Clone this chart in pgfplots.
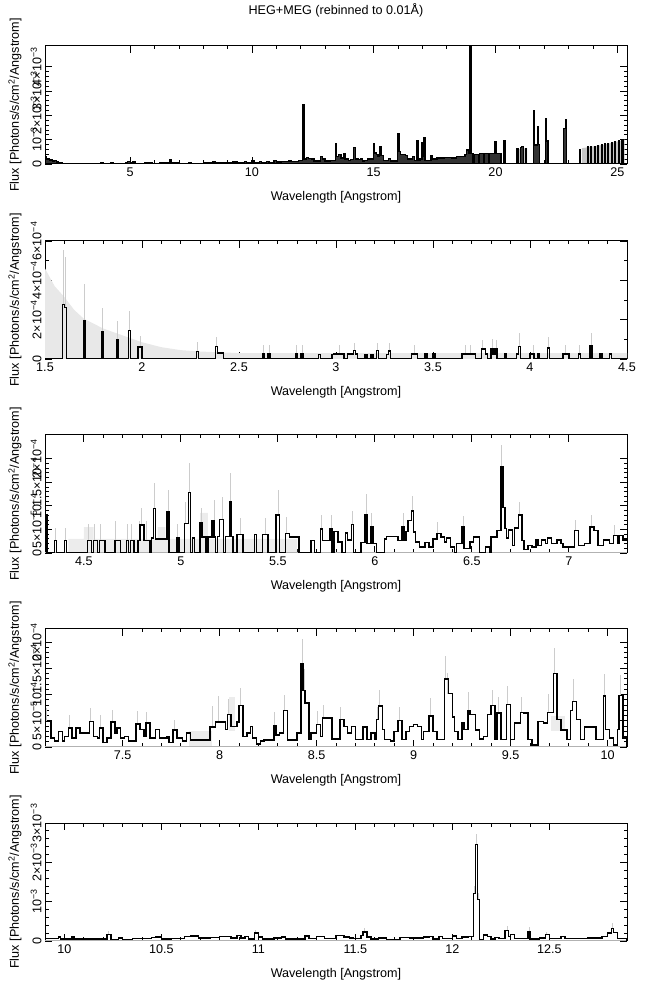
\documentclass[border=0pt]{standalone}
\usepackage{fontspec}
\setmainfont{Liberation Sans}
\usepackage{pgfplots}
\pgfplotsset{compat=1.18}
\newcommand\fs{\fontsize{12.6pt}{15pt}\selectfont}
\newcommand\mth{\textsuperscript{−3}}
\newcommand\mf{\textsuperscript{−4}}
\newcommand\mv{\textsuperscript{−5}}
\pgfplotsset{
 panel/.style={
  scale only axis, width=582pt, height=118pt, anchor=south west,
  axis line style={line width=1pt},
  tick align=inside, xtick pos=both, ytick pos=both,
  major tick length=7pt, minor tick length=3.5pt,
  every tick/.style={black, line width=0.8pt},
  /pgf/number format/assume math mode=true,
  tick label style={font=\fs},
  yticklabel style={rotate=90, anchor=south},
  xlabel={Wavelength [Angstrom]},
  ylabel={Flux [Photons/s/cm\textsuperscript{2}/Angstrom]},
  label style={font=\fs},
  xlabel style={at={(axis description cs:0.5,0)}, anchor=center, yshift=-33pt},
  ylabel style={at={(axis description cs:-0.0515,0.5)}, anchor=center},
  ymin=0, enlargelimits=false, minor x tick num=4,
 },
 stp/.style={const plot, black, line width=1.5pt, mark=none},
 zero/.style={gray!60, line width=1.6pt, mark=none, forget plot},
 ebar/.style={draw=none, mark=none, forget plot,
   error bars/.cd, y dir=plus, y explicit, error mark=none,
   error bar style={draw=gray!40, solid, line width=0.8pt}},
}
\begin{document}
\begin{tikzpicture}
\useasboundingbox (0,0) rectangle (650pt,991pt);
% ---------------- Panel 1 ----------------
\begin{axis}[panel, at={(45pt,827pt)}, xmin=1.5, xmax=25.4, ymax=4.85,
  xtick={5,10,15,20,25}, ytick={0,1,2,3,4},
  yticklabels={0,10\mth,2×10\mth,3×10\mth,4×10\mth}, minor y tick num=4,
  title={HEG+MEG (rebinned to 0.01Å)},
  title style={at={(axis description cs:0.5,1)}, anchor=center, yshift=30pt, font=\fs}]
\addplot[fill=gray!45, draw=none, forget plot] coordinates {(19.0,0) (19.0,0.4) (20.2,0.44) (20.2,0) (20.9,0) (20.9,0.6) (21.3,0.66) (21.3,0) (23.55,0) (23.55,0.65) (24.5,0.8) (25.3,1.0) (25.3,0)};
\addplot[const plot, draw=black, line width=1.3pt, fill=black!80, mark=none] table {
1.50 0.30
1.56 0.20
1.62 0.22
1.68 0.15
1.75 0.18
1.82 0.12
1.90 0.14
1.98 0.08
2.05 0.05
2.20 0.03
2.60 0.02
3.00 0.03
3.50 0.02
3.80 0.04
3.90 0.02
4.20 0.04
4.30 0.03
4.80 0.06
4.90 0.10
5.00 0.05
5.10 0.08
5.20 0.03
5.60 0.04
5.90 0.03
6.20 0.05
6.60 0.16
6.68 0.04
7.00 0.03
7.40 0.05
7.50 0.03
8.00 0.05
8.40 0.10
8.48 0.04
8.80 0.06
9.10 0.05
9.20 0.08
9.40 0.04
9.70 0.10
9.78 0.06
10.00 0.12
10.08 0.06
10.30 0.10
10.40 0.06
10.60 0.09
10.70 0.07
10.90 0.15
11.00 0.08
11.20 0.10
11.50 0.12
11.60 0.09
11.90 0.14
12.06 0.18
12.10 2.45
12.16 0.20
12.25 0.28
12.32 0.22
12.45 0.20
12.55 0.12
12.80 0.32
12.90 0.20
13.00 0.12
13.20 0.15
13.42 0.85
13.48 0.30
13.55 0.38
13.65 0.25
13.75 0.42
13.82 0.20
13.95 0.15
14.05 0.18
14.18 0.68
14.24 0.20
14.35 0.18
14.45 0.20
14.55 0.12
14.62 0.15
14.75 0.20
14.98 0.85
15.04 0.45
15.10 0.38
15.18 0.30
15.24 0.70
15.30 0.35
15.40 0.15
15.60 0.22
15.70 0.12
15.98 1.25
16.04 0.50
16.10 0.40
16.22 0.40
16.30 0.35
16.40 0.20
16.60 0.30
16.68 0.15
16.76 0.97
16.82 0.15
16.90 0.20
16.98 0.87
17.03 0.30
17.05 1.08
17.11 0.15
17.20 0.15
17.35 0.35
17.42 0.20
17.60 0.25
17.90 0.28
18.20 0.25
18.40 0.30
18.60 0.32
18.75 0.40
18.82 0.58
18.88 0.45
18.95 4.90
19.00 0.42
19.08 0.00
19.12 0.40
19.30 0.00
19.34 0.42
19.50 0.00
19.54 0.43
19.70 0.00
19.74 0.44
19.98 0.90
20.03 0.42
20.22 0.00
20.35 0.96
20.40 0.00
20.88 0.62
20.95 0.00
21.02 0.67
21.08 0.72
21.14 0.00
21.22 0.65
21.28 0.00
21.55 2.20
21.60 0.78
21.72 1.55
21.76 0.80
21.82 0.00
22.05 1.85
22.10 0.95
22.16 0.00
22.80 1.45
22.86 1.82
22.92 0.00
23.45 0.60
23.50 0.00
23.78 0.70
23.81 0.00
23.92 0.70
23.95 0.00
24.06 0.72
24.09 0.00
24.20 0.75
24.23 0.00
24.34 0.78
24.37 0.00
24.48 0.82
24.51 0.00
24.62 0.84
24.65 0.00
24.76 0.86
24.79 0.00
24.90 0.90
24.93 0.00
25.04 0.95
25.07 0.00
25.16 0.98
25.20 1.00
25.23 0.00
25.40 0.00
} \closedcycle;
\end{axis}
% ---------------- Panel 2 ----------------
\begin{axis}[panel, at={(45pt,632pt)}, xmin=1.5, xmax=4.5, ymax=6,
  xtick={1.5,2,2.5,3,3.5,4,4.5}, ytick={0,2,4,6},
  yticklabels={0,2×10\mf,4×10\mf,6×10\mf}, minor y tick num=1]
\addplot[fill=gray!18, draw=none, forget plot] coordinates {(1.5,0) (1.5,4.6) (1.55,3.7) (1.6,3.15) (1.65,2.5) (1.7,2.05) (1.75,1.8) (1.8,1.55) (1.9,1.2) (2.0,0.85) (2.1,0.6) (2.2,0.45) (2.3,0.38) (2.5,0.3) (4.5,0.3) (4.5,0)};
\addplot[ebar] table[x index=0, y index=1, y error index=2] {
1.595 2.77 2.75
1.605 2.63 2.55
1.705 1.92 1.90
1.795 1.36 1.25
1.875 0.97 0.95
1.935 1.45 0.98
1.990 0.60 0.55
2.285 0.37 0.50
2.385 0.63 0.50
2.625 0.26 0.45
2.655 0.26 0.45
2.795 0.26 0.45
2.825 0.26 0.45
3.015 0.25 0.45
3.095 0.42 0.40
3.215 0.42 0.40
3.275 0.40 0.40
3.405 0.26 0.45
3.665 0.26 0.45
3.695 0.26 0.45
3.755 0.52 0.45
3.805 0.52 0.50
3.825 0.52 0.45
3.945 0.63 0.70
4.015 0.26 0.45
4.095 0.56 0.55
4.185 0.26 0.45
4.255 0.26 0.45
4.315 0.68 0.65
};
\addplot[stp] table {
1.50 0
1.59 2.77
1.60 2.63
1.61 0
1.70 1.92
1.71 0
1.79 1.36
1.80 0
1.87 0.97
1.88 0
1.93 1.45
1.94 0
1.98 0.60
2.00 0
2.28 0.37
2.29 0
2.38 0.63
2.39 0.30
2.42 0
2.62 0.26
2.63 0
2.65 0.26
2.66 0
2.79 0.26
2.80 0
2.82 0.26
2.83 0
2.91 0.22
2.92 0
2.98 0.22
2.99 0.25
3.04 0
3.06 0.25
3.09 0.42
3.10 0.25
3.11 0
3.15 0.22
3.16 0
3.18 0.22
3.19 0
3.21 0.42
3.22 0
3.26 0.22
3.27 0.40
3.28 0
3.39 0.26
3.42 0
3.46 0.26
3.47 0
3.50 0.26
3.51 0
3.65 0.26
3.72 0
3.75 0.52
3.77 0.26
3.78 0
3.80 0.52
3.81 0.26
3.82 0.52
3.83 0
3.87 0.26
3.88 0
3.93 0.26
3.94 0.63
3.95 0
4.00 0.26
4.02 0
4.04 0.26
4.05 0
4.09 0.56
4.10 0
4.17 0.26
4.20 0
4.25 0.26
4.26 0
4.31 0.68
4.32 0
4.36 0.26
4.37 0
4.41 0.26
4.42 0
4.50 0
};
\end{axis}
% ---------------- Panel 3 ----------------
\begin{axis}[panel, at={(45pt,438pt)}, xmin=4.3, xmax=7.3, ymax=2.5,
  xtick={4.5,5,5.5,6,6.5,7}, ytick={0,0.5,1,1.5,2},
  yticklabels={0,5×10\mv,10\mf,1.5×10\mf,2×10\mf}, minor y tick num=4]
\addplot[fill=gray!15, draw=none, forget plot] coordinates {(4.42,0) (4.42,0.3) (4.5,0.3) (4.5,0.55) (4.55,0.55) (4.55,0.3) (4.88,0.3) (4.88,0.55) (4.92,0.55) (4.92,0.3) (5.1,0.3) (5.1,0.85) (5.14,0.85) (5.14,0.3) (5.6,0.3) (5.6,0)};
\addplot[zero] coordinates {(4.3,0) (7.3,0)};
\addplot[ebar] table[x index=0, y index=1, y error index=2] {
4.355 0.27 0.27
4.405 0.27 0.27
4.525 0.27 0.35
4.555 0.27 0.35
4.585 0.27 0.35
4.665 0.27 0.40
4.725 0.27 0.35
4.745 0.27 0.35
4.785 0.27 0.40
4.795 0.59 0.37
4.825 0.27 0.40
4.865 0.94 0.54
4.935 0.88 0.46
4.985 0.32 0.30
5.025 0.62 0.45
5.045 1.28 0.62
5.105 0.65 0.30
5.175 0.68 0.45
5.215 0.71 0.48
5.255 1.09 0.60
5.305 0.39 0.35
5.435 0.39 0.35
5.505 0.80 0.54
5.545 0.41 0.35
5.725 0.51 0.30
5.775 0.51 0.30
5.885 0.60 0.30
5.955 0.81 0.45
5.985 0.55 0.30
6.145 0.55 0.30
6.195 0.89 0.31
6.325 0.41 0.25
6.455 0.55 0.23
6.655 1.82 0.46
6.665 0.96 0.30
6.745 0.80 0.28
7.035 0.48 0.22
7.115 0.55 0.25
7.235 0.37 0.22
};
\addplot[stp] table {
4.30 0.82
4.31 0
4.35 0.27
4.36 0
4.40 0.27
4.41 0
4.52 0.27
4.54 0
4.55 0.27
4.57 0
4.58 0.27
4.61 0
4.66 0.27
4.69 0
4.72 0.27
4.73 0
4.74 0.27
4.76 0
4.78 0.27
4.79 0.59
4.81 0.27
4.84 0
4.85 0.32
4.86 0.94
4.87 0.30
4.93 0.88
4.94 0
4.98 0.32
4.99 0
5.02 0.62
5.04 1.28
5.05 0
5.06 0.32
5.07 0
5.10 0.65
5.11 0.34
5.13 0
5.14 0.34
5.16 0.68
5.17 0.34
5.18 0
5.19 0.35
5.20 0.71
5.22 0
5.23 0.35
5.25 1.09
5.26 0.35
5.27 0
5.29 0.39
5.32 0
5.38 0.39
5.39 0
5.42 0.39
5.45 0
5.49 0.80
5.51 0
5.54 0.41
5.56 0.34
5.61 0
5.67 0.27
5.69 0
5.72 0.51
5.73 0.27
5.77 0.51
5.78 0
5.79 0.46
5.81 0.23
5.83 0
5.85 0.42
5.86 0.28
5.88 0.60
5.89 0
5.93 0.22
5.95 0.81
5.96 0.20
5.98 0.55
5.99 0.20
6.01 0
6.05 0.30
6.06 0.35
6.12 0.27
6.14 0.55
6.15 0.27
6.16 0.46
6.17 0.69
6.19 0.89
6.20 0.44
6.21 0.23
6.23 0.13
6.26 0.22
6.28 0.13
6.30 0.30
6.32 0.41
6.34 0.34
6.36 0.23
6.37 0.32
6.39 0.13
6.41 0
6.42 0.20
6.45 0.55
6.46 0.09
6.49 0.23
6.51 0.34
6.54 0
6.57 0.13
6.59 0
6.60 0.34
6.63 0.48
6.65 1.82
6.66 0.96
6.67 0.52
6.68 0.32
6.69 0.49
6.71 0.16
6.72 0.53
6.74 0.80
6.76 0.27
6.77 0.07
6.79 0.16
6.81 0.13
6.83 0.28
6.84 0.16
6.86 0.28
6.88 0.20
6.89 0.32
6.91 0.20
6.94 0.28
6.96 0.20
6.97 0.13
7.03 0.48
7.05 0.16
7.08 0.20
7.11 0.55
7.13 0.48
7.15 0.16
7.18 0.28
7.21 0.20
7.23 0.37
7.25 0.20
7.26 0.37
7.28 0.28
7.30 0.28
};
\end{axis}
% ---------------- Panel 4 ----------------
\begin{axis}[panel, at={(45pt,244pt)}, xmin=7.1, xmax=10.1, ymax=2.25,
  xtick={7.5,8,8.5,9,9.5,10}, ytick={0,0.5,1,1.5,2},
  yticklabels={0,5×10\mv,10\mf,1.5×10\mf,2×10\mf}, minor y tick num=4]
\addplot[fill=gray!15, draw=none, forget plot] coordinates {(7.84,0) (7.84,0.3) (7.96,0.3) (7.96,0)};
\addplot[fill=gray!15, draw=none, forget plot] coordinates {(8.05,0.3) (8.05,0.95) (8.08,0.95) (8.08,0.3)};
\addplot[fill=gray!15, draw=none, forget plot] coordinates {(9.71,0.3) (9.71,0.6) (9.78,0.6) (9.78,0.3)};
\addplot[zero] coordinates {(7.1,0) (10.1,0)};
\addplot[ebar] table[x index=0, y index=1, y error index=2] {
7.105 0.49 0.25
7.225 0.36 0.25
7.335 0.49 0.25
7.385 0.36 0.25
7.445 0.48 0.22
7.575 0.44 0.25
7.625 0.46 0.20
7.765 0.32 0.20
7.965 0.38 0.40
7.995 0.48 0.50
8.045 0.62 0.30
8.105 0.79 0.34
8.285 0.41 0.25
8.335 0.70 0.30
8.425 1.59 0.46
8.435 1.08 0.40
8.505 0.43 0.25
8.535 0.55 0.25
8.625 0.52 0.25
8.815 0.52 0.25
8.825 0.78 0.31
8.925 0.51 0.25
9.085 0.59 0.35
9.165 1.30 0.43
9.175 1.02 0.40
9.285 0.70 0.35
9.405 0.79 0.30
9.435 0.65 0.30
9.485 0.81 0.35
9.555 0.66 0.30
9.695 0.66 0.35
9.725 1.40 0.49
9.825 0.87 0.42
9.985 0.97 0.43
10.065 0.98 0.40
};
\addplot[stp] table {
7.10 0.49
7.13 0.17
7.15 0.11
7.17 0.30
7.19 0.11
7.20 0.20
7.22 0.36
7.24 0.17
7.26 0.36
7.28 0.27
7.33 0.49
7.35 0.20
7.37 0.17
7.38 0.36
7.40 0.09
7.42 0.17
7.44 0.48
7.46 0.27
7.47 0.36
7.49 0.17
7.51 0.20
7.53 0.11
7.57 0.44
7.59 0.33
7.61 0.20
7.62 0.46
7.64 0.17
7.67 0.33
7.69 0.17
7.73 0.20
7.74 0.09
7.76 0.32
7.78 0.17
7.81 0.11
7.83 0.27
7.85 0.13
7.95 0.38
7.98 0.48
8.03 0.33
8.04 0.62
8.06 0.39
8.09 0.48
8.10 0.79
8.12 0.20
8.14 0.27
8.16 0.39
8.17 0.17
8.19 0.06
8.21 0.11
8.23 0.13
8.28 0.41
8.29 0.23
8.31 0.27
8.33 0.70
8.35 0.13
8.40 0.27
8.42 1.59
8.43 1.08
8.44 0.84
8.46 0.14
8.47 0.27
8.50 0.43
8.52 0.20
8.53 0.55
8.58 0.15
8.62 0.52
8.64 0.39
8.66 0.27
8.68 0.39
8.70 0.14
8.74 0.38
8.76 0.14
8.78 0.27
8.80 0.14
8.81 0.52
8.82 0.78
8.84 0.33
8.85 0.14
8.88 0.11
8.90 0.30
8.92 0.51
8.94 0.14
8.96 0.30
8.98 0.39
9.00 0.43
9.02 0.39
9.04 0.14
9.05 0.30
9.07 0.30
9.08 0.59
9.10 0.30
9.12 0.14
9.16 1.30
9.18 1.02
9.20 0.57
9.21 0.30
9.23 0.14
9.25 0.46
9.26 0.33
9.28 0.70
9.29 0.62
9.32 0.32
9.34 0.15
9.36 0.20
9.38 0.62
9.40 0.79
9.42 0.14
9.43 0.65
9.45 0.14
9.48 0.81
9.50 0.14
9.52 0.46
9.55 0.66
9.57 0.65
9.59 0.14
9.61 0.04
9.64 0.49
9.67 0.46
9.69 0.66
9.72 1.40
9.74 0.52
9.76 0.32
9.79 0.14
9.81 0.70
9.82 0.87
9.84 0.52
9.86 0.14
9.88 0.38
9.94 0.14
9.98 0.97
9.99 0.33
10.01 0.17
10.03 0.04
10.05 0.33
10.06 0.98
10.08 0.17
10.10 0
};
\end{axis}
% ---------------- Panel 5 ----------------
\begin{axis}[panel, at={(45pt,50pt)}, xmin=9.9, xmax=12.9, ymax=3,
  xtick={10,10.5,11,11.5,12,12.5}, ytick={0,1,2,3},
  yticklabels={0,10\mth,2×10\mth,3×10\mth}, minor y tick num=4]
\addplot[zero] coordinates {(9.9,0) (12.9,0)};
\addplot[ebar] table[x index=0, y index=1, y error index=2] {
10.225 0.17 0.08
10.985 0.20 0.08
11.545 0.23 0.10
12.115 1.21 0.20
12.125 2.45 0.28
12.135 1.05 0.18
12.285 0.27 0.10
12.395 0.24 0.12
12.485 0.17 0.07
12.825 0.32 0.14
};
\addplot[stp] table {
9.90 0.06
9.97 0.10
9.98 0.05
10.04 0.10
10.05 0.05
10.22 0.17
10.24 0.04
10.28 0.07
10.30 0.04
10.35 0.06
10.45 0.09
10.47 0.10
10.50 0.05
10.55 0.06
10.62 0.12
10.65 0.13
10.69 0.07
10.75 0.09
10.80 0.11
10.86 0.08
10.89 0.14
10.91 0.07
10.93 0.11
10.95 0.05
10.98 0.20
11.00 0.10
11.02 0.05
11.08 0.08
11.12 0.10
11.14 0.05
11.24 0.13
11.26 0.06
11.30 0.12
11.34 0.06
11.40 0.14
11.44 0.10
11.47 0.08
11.49 0.06
11.53 0.14
11.54 0.23
11.56 0.10
11.58 0.05
11.62 0.08
11.66 0.04
11.73 0.09
11.78 0.07
11.85 0.10
11.88 0.11
11.90 0.05
11.93 0.12
11.95 0.06
12.00 0.13
12.02 0.06
12.05 0.10
12.08 0.12
12.11 1.21
12.12 2.45
12.13 1.05
12.14 0.04
12.16 0.15
12.18 0.12
12.20 0.05
12.22 0.09
12.24 0.06
12.27 0.27
12.29 0.12
12.30 0.16
12.32 0.06
12.39 0.24
12.40 0.05
12.45 0.08
12.48 0.17
12.50 0.06
12.56 0.12
12.58 0.06
12.70 0.08
12.77 0.12
12.80 0.20
12.82 0.32
12.83 0.22
12.85 0.06
12.90 0
};
\end{axis}
\end{tikzpicture}
\end{document}
